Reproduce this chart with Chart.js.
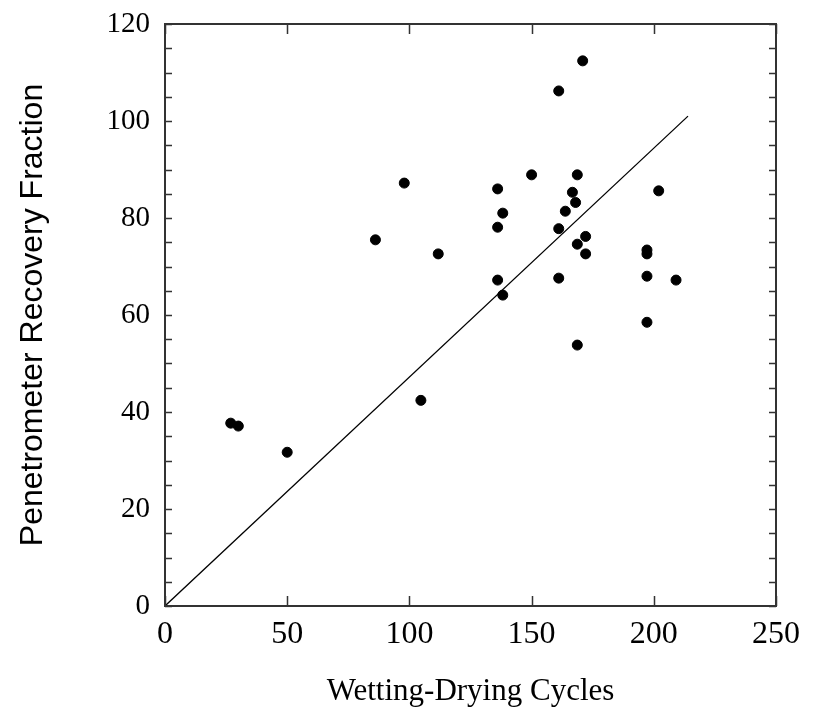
<!DOCTYPE html>
<html>
<head>
<meta charset="utf-8">
<script src="https://cdn.jsdelivr.net/npm/chart.js@4.4.1/dist/chart.umd.min.js"></script>
<style>
  html, body { margin: 0; padding: 0; background: #fff; }
  canvas { display: block; }
</style>
</head>
<body>
<canvas id="recoveryChart" width="816" height="712"></canvas>
<script>
// measured points: wetting-drying cycles vs. penetrometer recovery
const cycles = [
  26.9, 30.0, 50.0, 86.1, 97.9, 104.7, 111.8,
  136.1, 136.1, 136.1, 138.2, 138.2, 150.0,
  161.1, 161.1, 161.1, 163.8, 166.7, 168.0, 168.7, 168.7, 168.7,
  170.9, 172.1, 172.1,
  197.2, 197.2, 197.2, 197.2, 202.0, 209.1
];
const recovery = [
  37.7, 37.1, 31.7, 75.5, 87.2, 42.4, 72.6,
  86.0, 78.1, 67.2, 81.0, 64.1, 88.9,
  106.2, 77.8, 67.6, 81.4, 85.3, 83.2, 88.9, 74.6, 53.8,
  112.4, 76.2, 72.6,
  73.4, 72.6, 68.0, 58.5, 85.6, 67.2
];

// fitted line through the origin (end points)
const fitX = [0, 214];
const fitY = [0, 101];

const xTicks = [0, 50, 100, 150, 200, 250];
const yLabelStep = 20;

const frameColor = '#333';

// box around the plot with inward tick marks
const framePlugin = {
  id: 'frame',
  afterDatasetsDraw(chart) {
    const { ctx, chartArea: a, scales } = chart;
    ctx.save();
    ctx.strokeStyle = frameColor;
    ctx.lineWidth = 1.5;
    ctx.beginPath();
    scales.x.ticks.forEach(t => {
      const px = Math.round(scales.x.getPixelForValue(t.value)) + 0.5;
      ctx.moveTo(px, a.bottom); ctx.lineTo(px, a.bottom - 10);
      ctx.moveTo(px, a.top); ctx.lineTo(px, a.top + 10);
    });
    scales.y.ticks.forEach(t => {
      const py = Math.round(scales.y.getPixelForValue(t.value)) + 0.5;
      ctx.moveTo(a.left, py); ctx.lineTo(a.left + 7, py);
      ctx.moveTo(a.right, py); ctx.lineTo(a.right - 7, py);
    });
    ctx.stroke();
    ctx.lineWidth = 2;
    ctx.strokeRect(a.left, a.top, a.right - a.left, a.bottom - a.top);
    ctx.restore();
  }
};

const ctx = document.getElementById('recoveryChart').getContext('2d');

new Chart(ctx, {
  type: 'scatter',
  data: {
    datasets: [
      {
        label: 'Measured',
        data: cycles.map((c, i) => ({ x: c, y: recovery[i] })),
        backgroundColor: '#000',
        borderColor: '#000',
        pointRadius: 5,
        pointHoverRadius: 5
      },
      {
        label: 'Fit',
        data: fitX.map((c, i) => ({ x: c, y: fitY[i] })),
        showLine: true,
        borderColor: '#000',
        borderWidth: 1.3,
        pointRadius: 0,
        fill: false
      }
    ]
  },
  options: {
    responsive: false,
    animation: false,
    layout: { padding: { top: 24, right: 40, bottom: 0, left: 0 } },
    plugins: {
      legend: { display: false },
      tooltip: { enabled: false }
    },
    scales: {
      x: {
        type: 'linear',
        min: 0,
        max: 250,
        afterBuildTicks: s => { s.ticks = xTicks.map(v => ({ value: v })); },
        afterFit: s => { s.height = 106; },
        grid: { display: false, drawTicks: false },
        border: { display: false },
        ticks: {
          padding: 9,
          color: '#000',
          font: { family: 'Liberation Serif', size: 32 }
        },
        title: {
          display: true,
          text: 'Wetting-Drying Cycles',
          color: '#000',
          font: { family: 'Liberation Serif', size: 31, lineHeight: 1 },
          padding: { top: 0, bottom: 5 }
        }
      },
      y: {
        min: 0,
        max: 120,
        afterFit: s => { s.width = 165; },
        grid: { display: false, drawTicks: false },
        border: { display: false },
        ticks: {
          stepSize: 5,
          autoSkip: false,
          padding: 15,
          color: '#000',
          font: { family: 'Liberation Serif', size: 29, lineHeight: 0.6 },
          callback: v => (v % yLabelStep === 0 ? v : '')
        },
        title: {
          display: true,
          text: 'Penetrometer Recovery Fraction',
          color: '#000',
          font: { family: 'Liberation Sans', size: 32, lineHeight: 1 },
          padding: { top: 17, bottom: 0 }
        }
      }
    }
  },
  plugins: [framePlugin]
});
</script>
</body>
</html>
